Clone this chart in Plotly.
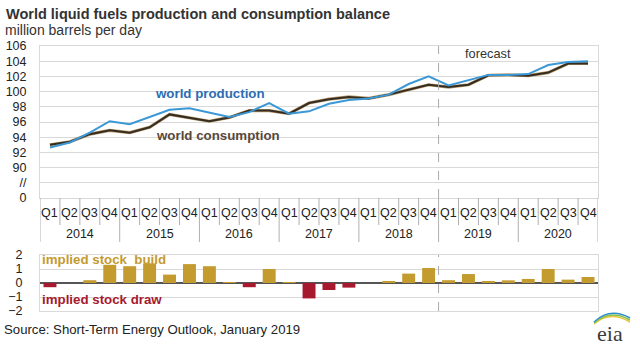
import plotly.graph_objects as go

years = ["2014", "2015", "2016", "2017", "2018", "2019", "2020"]
quarters = ["Q1", "Q2", "Q3", "Q4"]
production = [92.65, 93.3, 94.6, 96.1, 95.7, 96.7, 97.6, 97.8, 97.2, 96.65, 97.3, 98.5,
              97.1, 97.4, 98.4, 98.9, 99.1, 99.6, 101.0, 102.0, 100.8, 101.5, 102.2, 102.2,
              102.3, 103.5, 103.9, 104.0]
consumption = [93.0, 93.4, 94.4, 94.9, 94.6, 95.3, 97.0, 96.5, 96.1, 96.6, 97.5, 97.5,
               97.1, 98.5, 99.0, 99.3, 99.1, 99.6, 100.3, 100.9, 100.6, 100.9, 102.15, 102.2,
               102.1, 102.5, 103.7, 103.7]
stock_change = [-0.3, 0.0, 0.2, 1.3, 1.2, 1.4, 0.6, 1.35, 1.2, 0.05, -0.3, 1.0, 0.05, -1.1,
                -0.5, -0.33, 0.0, 0.1, 0.67, 1.07, 0.2, 0.64, 0.14, 0.19, 0.29, 1.0, 0.24, 0.43]
y_tickvals = [86, 88, 90, 92, 94, 96, 98, 100, 102, 104, 106]
y_ticktext = ["0", "//", "90", "92", "94", "96", "98", "100", "102", "104", "106"]
forecast_start = "2019"

n = len(production)
xs = list(range(n))
q_labels = [quarters[i % 4] for i in xs]

FONT = "Liberation Sans, Arial, sans-serif"
BLUE = "#3a98d6"
DARK = "#352c22"
GOLD = "#c39b2f"
RED = "#a6192e"
GRID = "#d9d9d9"
SEP = "#b0b0b0"

fig = go.Figure()
fig.add_trace(go.Scatter(x=xs, y=consumption, mode="lines", line=dict(color="#b89a6a", width=3.2),
                         hoverinfo="skip", showlegend=False))
fig.add_trace(go.Scatter(x=xs, y=consumption, mode="lines", line=dict(color=DARK, width=2),
                         name="world consumption", showlegend=False))
fig.add_trace(go.Scatter(x=xs, y=production, mode="lines", line=dict(color=BLUE, width=2),
                         name="world production", showlegend=False))
fig.add_trace(go.Bar(x=xs, y=stock_change, xaxis="x2", yaxis="y2",
                     marker=dict(color=[GOLD if v >= 0 else RED for v in stock_change], line=dict(width=0)),
                     showlegend=False))

XD = [40 / 640, 598 / 640]
top_dom = [1 - 198 / 361, 1 - 46 / 361]
bot_dom = [1 - 311 / 361, 1 - 255 / 361]

fig.update_layout(
    width=640, height=361, margin=dict(l=0, r=0, t=0, b=0, autoexpand=False),
    paper_bgcolor="white", plot_bgcolor="white",
    font=dict(family=FONT, size=12, color="#222"),
    bargap=0.35,
    xaxis=dict(domain=XD, range=[-0.5, n - 0.5], showticklabels=False, showgrid=False,
               zeroline=False, showline=True, linecolor=GRID, mirror=True, ticks="",
               automargin=False),
    yaxis=dict(domain=top_dom, range=[86, 106], tickvals=y_tickvals, ticktext=y_ticktext,
               showgrid=True, gridcolor=GRID, gridwidth=1, zeroline=False, showline=True,
               linecolor=GRID, mirror=True, ticklabelstandoff=10, automargin=False,
               tickfont=dict(size=12.5, color="#222")),
    xaxis2=dict(domain=XD, anchor="y2", range=[-0.5, n - 0.5], showticklabels=False,
                showgrid=False, zeroline=False, showline=True, linecolor=GRID, mirror=True,
                automargin=False),
    yaxis2=dict(domain=bot_dom, anchor="x2", range=[-2, 2], tickvals=[-2, -1, 0, 1, 2],
                showgrid=True, gridcolor=GRID, zeroline=True, zerolinecolor="#555",
                zerolinewidth=1.5, showline=True, linecolor=GRID, mirror=True,
                ticklabelstandoff=14, automargin=False, tickfont=dict(size=12.5, color="#222")),
)

shapes = []
y_axis_bottom = top_dom[0]
q_bottom = 1 - 225 / 361
yr_bottom = 1 - 242 / 361
for i in range(n + 1):
    is_year = (i % 4 == 0)
    shapes.append(dict(type="line", xref="x", yref="paper", x0=i - 0.5, x1=i - 0.5,
                       y0=y_axis_bottom, y1=yr_bottom if is_year else q_bottom,
                       line=dict(color=SEP, width=1)))
fi = years.index(forecast_start) * 4 - 0.5
shapes.append(dict(type="line", xref="x", yref="y domain", x0=fi, x1=fi, y0=0, y1=1,
                   line=dict(color="#aaaaaa", width=1, dash="dash")))
shapes.append(dict(type="line", xref="x2", yref="y2 domain", x0=fi, x1=fi, y0=0, y1=1,
                   line=dict(color="#aaaaaa", width=1, dash="dash")))
# eia logo swoosh
for k, c in enumerate(["#e6c43a", "#8cc04a", "#2a8fcf"]):
    y0 = 1 - (324 - k) / 361
    ym = 1 - (310 - k * 1.5) / 361
    y1 = 1 - (322 - k * 2) / 361
    shapes.append(dict(type="path", xref="paper", yref="paper",
                       path=f"M {594/640} {y0} Q {610/640} {ym} {630/640} {y1}",
                       line=dict(color=c, width=1.5)))
fig.update_layout(shapes=shapes)

ann = []
for i in xs:
    ann.append(dict(x=i, y=1 - 213 / 361, xref="x", yref="paper", text=q_labels[i], showarrow=False,
                    font=dict(size=12.5, color="#222"), xanchor="center", yanchor="middle"))
for j, yr in enumerate(years):
    ann.append(dict(x=j * 4 + 1.5, y=1 - 234 / 361, xref="x", yref="paper", text=yr, showarrow=False,
                    font=dict(size=12.5, color="#222"), xanchor="center", yanchor="middle"))

ann += [
    dict(x=4 / 640, y=1 - 14 / 361, xref="paper", yref="paper", xanchor="left", yanchor="middle",
         text="<b>World liquid fuels production and consumption balance</b>", showarrow=False,
         font=dict(size=14.5, color="#333")),
    dict(x=3 / 640, y=1 - 30 / 361, xref="paper", yref="paper", xanchor="left", yanchor="middle",
         text="million barrels per day", showarrow=False, font=dict(size=14, color="#333")),
    dict(x=8.05, y=99.7, xref="x", yref="y", text="<b>world production</b>", showarrow=False,
         font=dict(size=13.3, color="#2d6db3")),
    dict(x=8.45, y=94.2, xref="x", yref="y", text="<b>world consumption</b>", showarrow=False,
         font=dict(size=13.3, color="#57483a")),
    dict(x=22.0, y=105.0, xref="x", yref="y", text="forecast", showarrow=False,
         font=dict(size=12.8, color="#333")),
    dict(x=40 / 640, y=1 - 259 / 361, xref="paper", yref="paper", xanchor="left", yanchor="middle",
         text="<b>implied stock  build</b>", showarrow=False, font=dict(size=13.3, color=GOLD)),
    dict(x=40 / 640, y=1 - 299 / 361, xref="paper", yref="paper", xanchor="left", yanchor="middle",
         text="<b>implied stock draw</b>", showarrow=False, font=dict(size=13.3, color=RED)),
    dict(x=2 / 640, y=1 - 329 / 361, xref="paper", yref="paper", xanchor="left", yanchor="middle",
         text="Source: Short-Term Energy Outlook, January 2019", showarrow=False,
         font=dict(size=13.2, color="#222")),
    dict(x=610 / 640, y=1 - 333 / 361, xref="paper", yref="paper", xanchor="center", yanchor="middle",
         text="eia", showarrow=False, font=dict(family="Liberation Serif, DejaVu Serif, serif", size=22, color="#3a3a3a")),
]
fig.update_layout(annotations=ann)

fig.write_html("out.html", config={"displayModeBar": False},
               post_script="document.body.style.margin='0';")
